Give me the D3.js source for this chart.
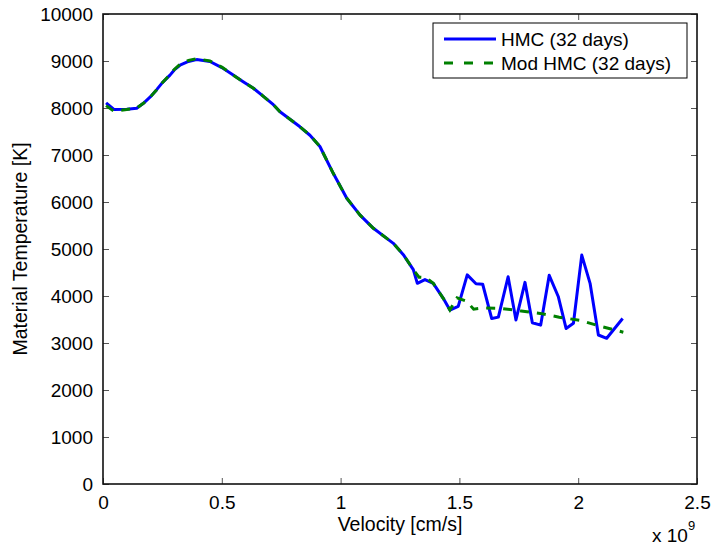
<!DOCTYPE html>
<html>
<head>
<meta charset="utf-8">
<script src="https://cdn.jsdelivr.net/npm/d3@7"></script>
<style>
  body { margin: 0; background: #fff; }
  text { font-family: "Liberation Sans", Arial, Helvetica, sans-serif; fill: #000; }
</style>
</head>
<body>
<div id="chart"></div>
<script>
// velocity in units of 1e9 cm/s, temperature in K
var hmcVelocity = [0.013, 0.046, 0.10, 0.142, 0.17, 0.20, 0.226, 0.25, 0.282, 0.30, 0.324, 0.36, 0.394, 0.45, 0.50, 0.548, 0.59, 0.633, 0.67, 0.717, 0.745, 0.829, 0.871, 0.913, 0.969, 1.026, 1.082, 1.138, 1.222, 1.264, 1.306, 1.323, 1.355, 1.39, 1.432, 1.46, 1.495, 1.533, 1.57, 1.598, 1.636, 1.664, 1.705, 1.738, 1.776, 1.807, 1.842, 1.878, 1.916, 1.949, 1.98, 2.015, 2.05, 2.085, 2.12, 2.187];
var hmcTemp = [8110, 7970, 7975, 7995, 8100, 8240, 8390, 8540, 8700, 8810, 8910, 8990, 9030, 8990, 8860, 8700, 8560, 8420, 8270, 8070, 7920, 7600, 7420, 7180, 6610, 6080, 5720, 5440, 5120, 4880, 4560, 4270, 4350, 4270, 3950, 3700, 3780, 4450, 4260, 4250, 3520, 3550, 4410, 3490, 4290, 3430, 3380, 4440, 3990, 3310, 3420, 4870, 4270, 3170, 3100, 3520];

var modVelocity = [0.013, 0.046, 0.10, 0.142, 0.17, 0.20, 0.226, 0.25, 0.282, 0.30, 0.324, 0.36, 0.394, 0.45, 0.50, 0.548, 0.59, 0.633, 0.67, 0.717, 0.745, 0.829, 0.871, 0.913, 0.969, 1.026, 1.082, 1.138, 1.222, 1.264, 1.306, 1.33, 1.36, 1.39, 1.432, 1.46, 1.49, 1.53, 1.56, 1.60, 1.67, 1.76, 1.84, 1.92, 2.01, 2.09, 2.19];
var modTemp = [8050, 7930, 7970, 8000, 8100, 8240, 8390, 8540, 8710, 8820, 8930, 9010, 9050, 9000, 8870, 8700, 8560, 8420, 8270, 8070, 7920, 7600, 7420, 7180, 6610, 6080, 5720, 5440, 5120, 4880, 4560, 4400, 4390, 4270, 3950, 3700, 3960, 3890, 3720, 3745, 3740, 3680, 3630, 3550, 3480, 3360, 3230];

var xTicks = [0, 0.5, 1, 1.5, 2, 2.5];
var yTicks = [0, 1000, 2000, 3000, 4000, 5000, 6000, 7000, 8000, 9000, 10000];
var seriesNames = ["HMC (32 days)", "Mod HMC (32 days)"];

var width = 715,
  height = 550;
var margin = { top: 14, right: 18, bottom: 66, left: 103 };
var graphWidth = width - margin.left - margin.right,
  graphHeight = height - margin.top - margin.bottom;

var svg = d3.select("#chart").append("svg").attr("width", width).attr("height", height);
var graph = svg
  .append("g")
  .attr("transform", "translate(" + margin.left + "," + margin.top + ")");

var x = d3.scaleLinear().domain([0, 2.5]).range([0, graphWidth]);
var y = d3.scaleLinear().domain([0, 10000]).range([graphHeight, 0]);

// matlab style: ticks point inward on all four sides
var tickLen = 6;
var xAxis = d3.axisBottom(x).tickValues(xTicks).tickSize(-tickLen).tickPadding(12).tickFormat(d3.format("~g"));
var yAxis = d3.axisLeft(y).tickValues(yTicks).tickSize(-tickLen).tickPadding(10).tickFormat(d3.format("d"));

var gXAxis = graph.append("g").attr("transform", "translate(0," + graphHeight + ")").call(xAxis);
var gYAxis = graph.append("g").call(yAxis);
var gTop = graph.append("g").call(d3.axisTop(x).tickValues(xTicks).tickSize(-tickLen).tickFormat(""));
var gRight = graph
  .append("g")
  .attr("transform", "translate(" + graphWidth + ",0)")
  .call(d3.axisRight(y).tickValues(yTicks).tickSize(-tickLen).tickFormat(""));

[gXAxis, gYAxis, gTop, gRight].forEach(function (g) {
  g.select(".domain").remove();
  g.selectAll(".tick line").attr("stroke", "#555").attr("stroke-width", 1);
  g.selectAll(".tick text").style("font-size", "19px").attr("fill", "#000");
});
gYAxis.selectAll(".tick text").attr("dy", "0.36em");

graph
  .append("rect")
  .attr("x", 0)
  .attr("y", 0)
  .attr("width", graphWidth)
  .attr("height", graphHeight)
  .attr("fill", "none")
  .attr("stroke", "#111")
  .attr("stroke-width", 1.6);

var line = d3
  .line()
  .x(function (d) {
    return x(d[0]);
  })
  .y(function (d) {
    return y(d[1]);
  });

graph
  .append("path")
  .datum(d3.zip(hmcVelocity, hmcTemp))
  .attr("fill", "none")
  .attr("stroke", "#0000ff")
  .attr("stroke-width", 3)
  .attr("stroke-linejoin", "round")
  .attr("d", line);

graph
  .append("path")
  .datum(d3.zip(modVelocity, modTemp))
  .attr("fill", "none")
  .attr("stroke", "#008000")
  .attr("stroke-width", 3)
  .attr("stroke-dasharray", "9,8")
  .attr("d", line);

// legend
var legend = svg.append("g").attr("transform", "translate(433,23)");
legend
  .append("rect")
  .attr("width", 254)
  .attr("height", 55)
  .attr("fill", "#fff")
  .attr("stroke", "#000")
  .attr("stroke-width", 1);
var legendStyles = [
  { color: "#0000ff", dash: null },
  { color: "#008000", dash: "9,11" }
];
seriesNames.forEach(function (name, i) {
  var ly = 16 + i * 24;
  legend
    .append("line")
    .attr("x1", 11)
    .attr("x2", 63)
    .attr("y1", ly)
    .attr("y2", ly)
    .attr("stroke", legendStyles[i].color)
    .attr("stroke-width", 3)
    .attr("stroke-dasharray", legendStyles[i].dash);
  legend
    .append("text")
    .text(name)
    .attr("x", 68)
    .attr("y", ly + 7)
    .style("font-size", "19px");
});

// axis labels
svg
  .append("text")
  .text("Velocity [cm/s]")
  .attr("x", margin.left + graphWidth / 2)
  .attr("y", 531)
  .attr("text-anchor", "middle")
  .style("font-size", "19.5px");
svg
  .append("text")
  .text("Material Temperature [K]")
  .attr("transform", "translate(27," + (margin.top + graphHeight / 2) + ") rotate(-90)")
  .attr("text-anchor", "middle")
  .style("font-size", "19.5px");

var expo = svg.append("text").attr("x", 652).attr("y", 542).style("font-size", "19px");
expo.append("tspan").text("x 10");
expo.append("tspan").text("9").attr("dy", -12).style("font-size", "13px");
</script>
</body>
</html>
